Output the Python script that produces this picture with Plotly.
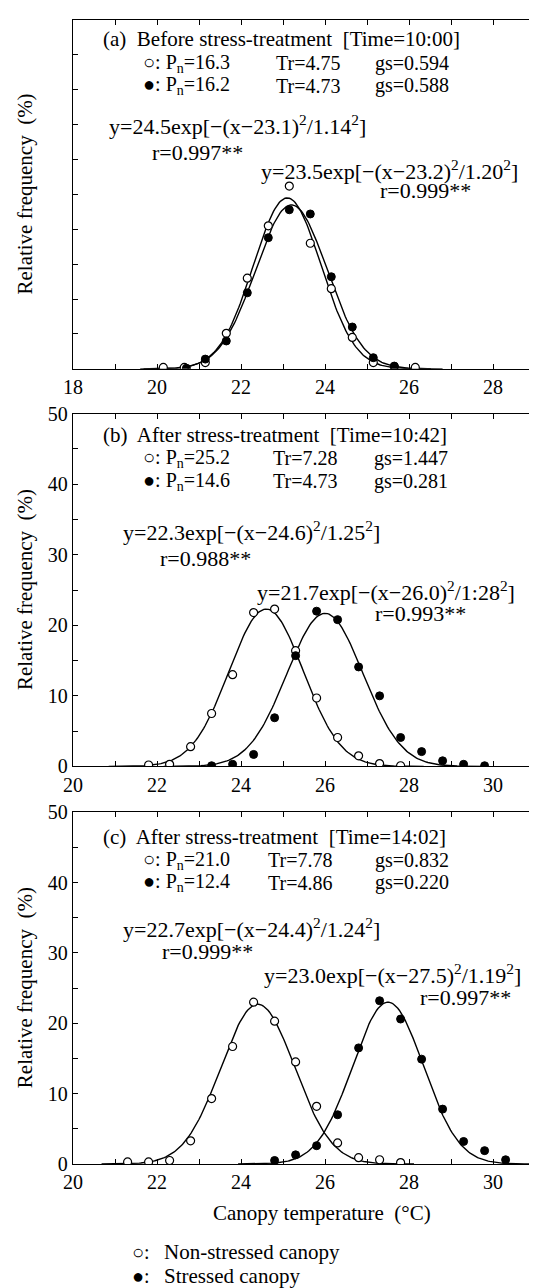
import numpy as np
import plotly.graph_objects as go

# ---------------- data ----------------
# panel (a) before stress-treatment, Time=10:00
a_x_open = [20.15, 20.65, 21.15, 21.65, 22.15, 22.65, 23.15, 23.65, 24.15, 24.65, 25.15, 25.65, 26.15]
a_y_open = [0.2, 0.2, 0.9, 5.1, 13.0, 20.5, 26.2, 18.0, 11.5, 4.5, 0.9, 0.3, 0.2]
a_x_fill = [20.7, 21.15, 21.65, 22.15, 22.65, 23.15, 23.65, 24.15, 24.65, 25.15, 25.65]
a_y_fill = [0.1, 1.4, 4.0, 10.9, 18.8, 22.8, 22.2, 13.2, 6.0, 1.6, 0.4]

# panel (b) after stress-treatment, Time=10:42
b_x_open = [21.8, 22.3, 22.8, 23.3, 23.8, 24.3, 24.8, 25.3, 25.8, 26.3, 26.8, 27.3, 27.8]
b_y_open = [0.2, 0.3, 2.8, 7.5, 13.0, 21.8, 22.3, 16.4, 9.7, 4.1, 1.5, 0.4, 0.1]
b_x_fill = [23.3, 23.8, 24.3, 24.8, 25.3, 25.8, 26.3, 26.8, 27.3, 27.8, 28.3, 28.8, 29.3, 29.8]
b_y_fill = [0.1, 0.3, 1.7, 6.9, 15.7, 22.0, 20.8, 14.1, 10.0, 4.1, 2.1, 0.8, 0.3, 0.1]

# panel (c) after stress-treatment, Time=14:02
c_x_open = [21.3, 21.8, 22.3, 22.8, 23.3, 23.8, 24.3, 24.8, 25.3, 25.8, 26.3, 26.8, 27.3, 27.8]
c_y_open = [0.3, 0.3, 0.5, 3.3, 9.3, 16.7, 23.0, 20.3, 14.5, 8.2, 3.0, 0.9, 0.6, 0.2]
c_x_fill = [24.8, 25.3, 25.8, 26.3, 26.8, 27.3, 27.8, 28.3, 28.8, 29.3, 29.8, 30.3]
c_y_fill = [0.5, 1.3, 2.6, 7.0, 16.5, 23.2, 20.6, 14.9, 7.8, 3.2, 1.9, 0.6]

# fitted gaussian parameters y = A exp[-(x-mu)^2 / s^2]  (open, filled) per panel
fit_A = [[24.5, 23.5], [22.3, 21.7], [22.7, 23.0]]
fit_mu = [[23.1, 23.2], [24.6, 26.0], [24.4, 27.5]]
fit_s = [[1.14, 1.20], [1.25, 1.28], [1.24, 1.19]]
fit_r = [["0.997", "0.999"], ["0.988", "0.993"], ["0.999", "0.997"]]
fit_s_label = [["1.14", "1.20"], ["1.25", "1:28"], ["1.24", "1.19"]]

titles = ["(a)  Before stress-treatment  [Time=10:00]",
          "(b)  After stress-treatment  [Time=10:42]",
          "(c)  After stress-treatment  [Time=14:02]"]
Pn = [["16.3", "16.2"], ["25.2", "14.6"], ["21.0", "12.4"]]
Tr = [["4.75", "4.73"], ["7.28", "4.73"], ["7.78", "4.86"]]
gs = [["0.594", "0.588"], ["1.447", "0.281"], ["0.832", "0.220"]]

x_ranges = [[18, 29], [20, 31], [20, 31]]

# ---------------- figure ----------------
FONT = "Liberation Serif, Times New Roman, serif"
FS = 20       # header / legend text
EQ = 22       # equations
TK = 20       # tick labels
OFF = 8       # page body margin offset
PAGE_W, PAGE_H = 537, 1288
W, H = PAGE_W - OFF, PAGE_H - OFF
P_LEFT, P_RIGHT = 73, 536
P_TOP, P_BOT = 13, 1164
ML, MR = P_LEFT - OFF, (OFF + W) - P_RIGHT
MT, MB = P_TOP - OFF, (OFF + H) - P_BOT
plot_h = P_BOT - P_TOP
pw = P_RIGHT - P_LEFT
spans = [(13, 364), (409, 764), (810, 1164)]
domains = [[(P_BOT - b) / plot_h, (P_BOT - t) / plot_h] for (t, b) in spans]


def px_x(p):
    return (p - P_LEFT) / pw


def px_y(p):
    return (P_BOT - p) / plot_h


fig = go.Figure()
series = [(a_x_open, a_y_open, a_x_fill, a_y_fill),
          (b_x_open, b_y_open, b_x_fill, b_y_fill),
          (c_x_open, c_y_open, c_x_fill, c_y_fill)]

text_y = [[47.3, 43.8, 40.6, 34.9, 31.0, 28.5, 25.6],
          [46.9, 43.7, 40.4, 33.4, 29.4, 24.9, 21.7],
          [46.5, 43.2, 40.0, 33.5, 30.2, 27.0, 23.7]]
eq_xf = [[0.075, 0.168, 0.405, 0.663],
         [0.105, 0.186, 0.397, 0.652],
         [0.105, 0.190, 0.412, 0.749]]
col_xf = [[0.149, 0.438, 0.652], [0.149, 0.430, 0.649], [0.149, 0.419, 0.652]]

annotations = []
for i in range(3):
    xa = "x" if i == 0 else f"x{i+1}"
    ya = "y" if i == 0 else f"y{i+1}"
    xo, yo, xf, yf = series[i]
    for k in range(2):
        mu, s, A = fit_mu[i][k], fit_s[i][k], fit_A[i][k]
        xx = np.linspace(mu - 3.0 * s, mu + 3.0 * s, 200)
        yy = A * np.exp(-((xx - mu) ** 2) / s ** 2)
        fig.add_trace(go.Scatter(x=xx, y=yy, mode="lines", xaxis=xa, yaxis=ya,
                                 line=dict(color="black", width=1.4), showlegend=False,
                                 hoverinfo="skip"))
    fig.add_trace(go.Scatter(x=xo, y=yo, mode="markers", xaxis=xa, yaxis=ya, showlegend=False,
                             marker=dict(symbol="circle", size=8, color="white",
                                         line=dict(color="black", width=1.2))))
    fig.add_trace(go.Scatter(x=xf, y=yf, mode="markers", xaxis=xa, yaxis=ya, showlegend=False,
                             marker=dict(symbol="circle", size=8, color="black",
                                         line=dict(color="black", width=1))))

    x0 = x_ranges[i][0]
    span = x_ranges[i][1] - x_ranges[i][0]
    ty = text_y[i]

    def ann(f, y, text, size=FS):
        annotations.append(dict(x=x0 + f * span, y=y, xref=xa, yref=ya, text=text,
                                showarrow=False, xanchor="left", yanchor="middle",
                                borderpad=0,
                                font=dict(family=FONT, size=size, color="black")))

    ann(0.062, ty[0], titles[i], 21)
    for k, sym in enumerate(["○", "●"]):
        ann(col_xf[i][0], ty[1 + k], f"{sym}: P<sub>n</sub>={Pn[i][k]}")
        ann(col_xf[i][1], ty[1 + k], f"Tr={Tr[i][k]}")
        ann(col_xf[i][2], ty[1 + k], f"gs={gs[i][k]}")
    ann(eq_xf[i][0], ty[3],
        f"y={fit_A[i][0]}exp[−(x−{fit_mu[i][0]})<sup>2</sup>/{fit_s_label[i][0]}<sup>2</sup>]", EQ)
    ann(eq_xf[i][1], ty[4], f"r={fit_r[i][0]}**", EQ)
    ann(eq_xf[i][2], ty[5],
        f"y={fit_A[i][1]}exp[−(x−{fit_mu[i][1]:.1f})<sup>2</sup>/{fit_s_label[i][1]}<sup>2</sup>]", EQ)
    ann(eq_xf[i][3], ty[6], f"r={fit_r[i][1]}**", EQ)

    d = domains[i]
    annotations.append(dict(x=px_x(25), y=(d[0] + d[1]) / 2, xref="paper", yref="paper",
                            text="Relative frequency  (%)", textangle=-90, showarrow=False,
                            xanchor="center", yanchor="middle",
                            font=dict(family=FONT, size=21, color="black")))

    tick_style = dict(ticks="inside", ticklen=5, tickwidth=1.2, tickcolor="black")
    axis_common = dict(showline=True, linecolor="black", linewidth=1.4, mirror="ticks",
                       showgrid=False, zeroline=False,
                       tickfont=dict(family=FONT, size=TK, color="black"), **tick_style)
    xkey = "xaxis" if i == 0 else f"xaxis{i+1}"
    ykey = "yaxis" if i == 0 else f"yaxis{i+1}"
    fig.update_layout(**{
        xkey: dict(range=x_ranges[i], tickmode="linear", tick0=x0, dtick=2,
                   minor=dict(dtick=1, tick0=x0, showgrid=False, **tick_style),
                   anchor=ya, domain=[0, 1], **axis_common),
        ykey: dict(range=[0, 50], tickmode="linear", tick0=0, dtick=10,
                   minor=dict(dtick=5, tick0=0, showgrid=False, **tick_style),
                   showticklabels=(i != 0),
                   anchor=xa, domain=d, **axis_common),
    })

annotations.append(dict(x=px_x(323), y=px_y(1213), xref="paper", yref="paper",
                        text="Canopy temperature  (°C)", showarrow=False,
                        xanchor="center", yanchor="middle",
                        font=dict(family=FONT, size=21, color="black")))
legend_items = [("○:", "Non-stressed canopy", 1253), ("●:", "Stressed canopy", 1277)]
for sym, lab, yp in legend_items:
    annotations.append(dict(x=px_x(131), y=px_y(yp), xref="paper", yref="paper", text=sym,
                            showarrow=False, xanchor="left", yanchor="middle", borderpad=0,
                            font=dict(family=FONT, size=FS, color="black")))
    annotations.append(dict(x=px_x(163), y=px_y(yp), xref="paper", yref="paper", text=lab,
                            showarrow=False, xanchor="left", yanchor="middle", borderpad=0,
                            font=dict(family=FONT, size=21, color="black")))

fig.update_layout(width=W, height=H, margin=dict(l=ML, r=MR, t=MT, b=MB),
                  paper_bgcolor="white", plot_bgcolor="white",
                  annotations=annotations, showlegend=False)
fig.write_html("out.html")
